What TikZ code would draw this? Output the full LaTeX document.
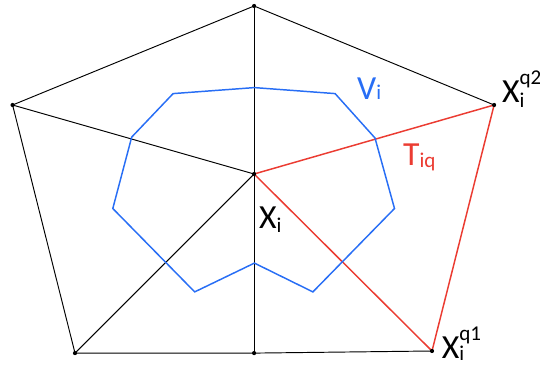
\documentclass[tikz,border=0pt]{standalone}
\usepackage{fontspec}
\setmainfont{Carlito}
\definecolor{cellblue}{RGB}{40,110,245}
\definecolor{trired}{RGB}{235,60,50}
\newcommand{\bigtxt}{\fontsize{32}{34}\selectfont}
\newcommand{\smalltxt}{\fontsize{20}{22}\selectfont}
\newcommand{\subsup}[4][-4pt]{#2\rlap{\raisebox{#1}{\smalltxt #3}}\raisebox{17pt}{\smalltxt #4}}
\newcommand{\subonly}[3][-4pt]{#2\raisebox{#1}{\smalltxt #3}}

\begin{document}
\begin{tikzpicture}[lbl/.style={inner sep=0pt, anchor=base west, font=\bigtxt}]
    \useasboundingbox (0,0) rectangle (18,12.2);
    % Points of the cell.
        \coordinate (top) at (8.47, 12.0);
        \coordinate (left) at (0.42, 8.7);
        \coordinate (qtwo) at (16.47, 8.7);
        \coordinate (botleft) at (2.5, 0.43);
        \coordinate (botmid) at (8.47, 0.43);
        \coordinate (qone) at (14.4, 0.5);
        \coordinate (xi) at (8.47, 6.4);
    % Outer pentagon and spokes.
    \draw[black, line width=0.9pt] (qtwo) -- (top) -- (left) -- (botleft) -- (botmid) -- (qone);
    \draw[black, line width=0.9pt] (top) -- (botmid);
    \draw[black, line width=0.9pt] (xi) -- (left);
    \draw[black, line width=0.9pt] (xi) -- (botleft);
    % The triangle T_iq.
    \draw[trired, line width=1.4pt] (xi) -- (qtwo) -- (qone) -- (xi);
    % Blue region V_i.
    \draw[cellblue, line width=1.4pt] (8.48, 9.28) -- (11.17, 9.08) -- (12.5, 7.6) -- (13.15, 5.25)
        -- (10.43, 2.47) -- (8.48, 3.43) -- (6.49, 2.47) -- (3.76, 5.25) -- (4.39, 7.63)
        -- (5.77, 9.08) -- cycle;
    % Dots.
    \foreach \p in {top, left, qtwo, botleft, botmid, qone, xi}
        \fill[black] (\p) circle (0.07);
    % Below nodes are the labels.
        \node[lbl, text=cellblue] (vlab) at (11.9, 8.87) {\subonly[0pt]{V}{i}};
        \node[lbl, text=trired] (tlab) at (13.43, 6.68) {\subonly[-2pt]{T}{iq}};
        \node[lbl] (xlab) at (8.63, 4.6) {\subonly{X}{i}};
        \node[lbl] (qtwolab) at (16.73, 8.77) {\subsup{X}{i}{q2}};
        \node[lbl] (qonelab) at (14.72, 0.26) {\subsup[-2pt]{X}{i}{q1}};
\end{tikzpicture}
\end{document}
